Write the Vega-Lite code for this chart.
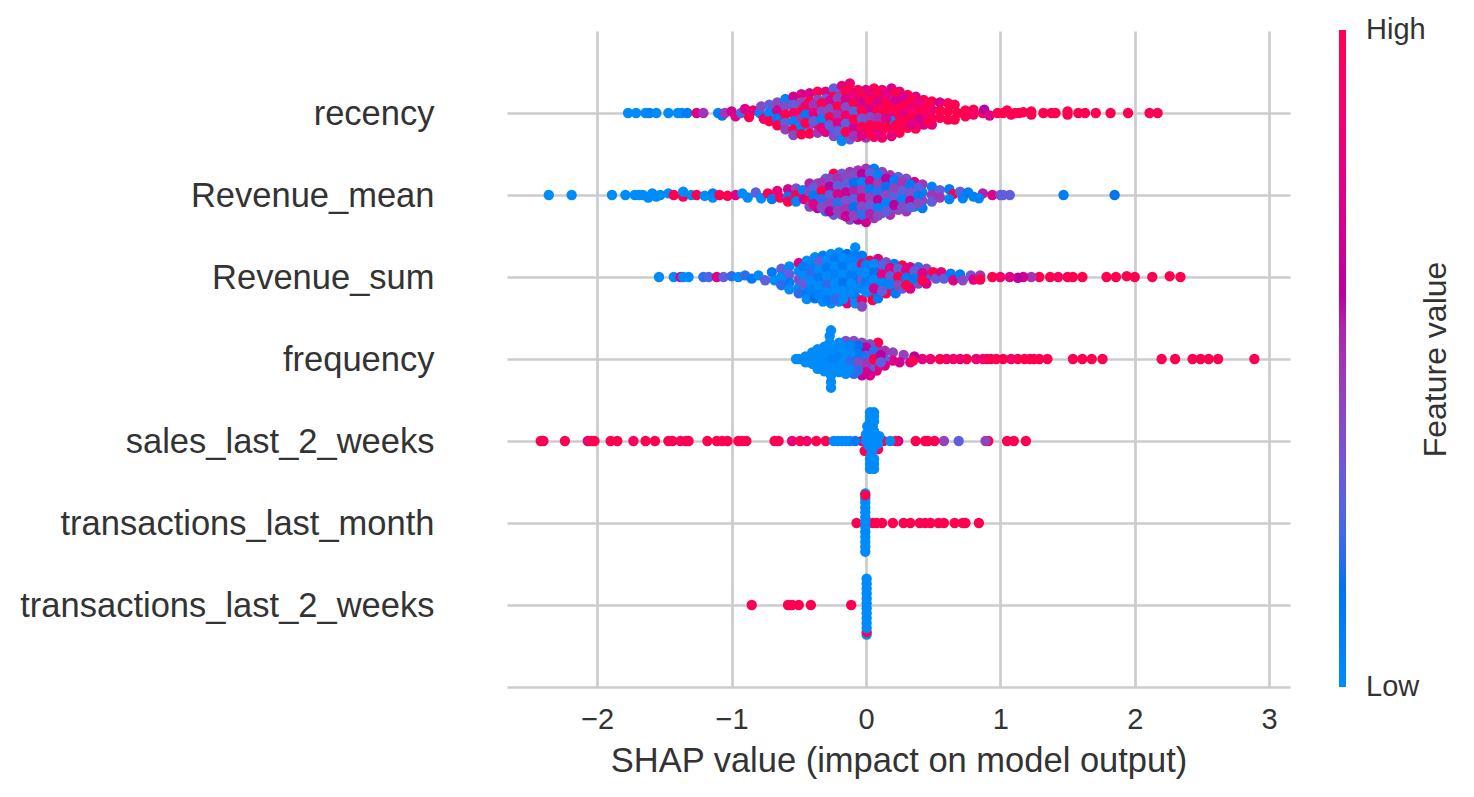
{
"$schema":"https://vega.github.io/schema/vega-lite/v6.json",
"width":783,"height":656,
"autosize":{"type":"none"},
"padding":{"left":507,"top":31,"right":184,"bottom":110},
"background":"white",
"config":{"view":{"stroke":null},"font":"Liberation Sans"},
"resolve":{"scale":{"y":"independent"}},
"layer":[
{"mark":{"type":"rule","color":"#a8a8a8","strokeWidth":3},
"encoding":{
"x":{"datum":0,"type":"quantitative","scale":{"domain":[-2.671,3.155],"nice":false,"zero":false}},
"y":{"datum":-1,"type":"quantitative","scale":{"domain":[-1,7],"nice":false,"zero":false},"axis":{"orient":"right","title":"Feature value","titleFontSize":32,"titleFontWeight":"normal","titleColor":"#333333","titleAngle":270,"titlePadding":162,"labels":false,"ticks":false,"domain":false,"grid":false}},
"y2":{"datum":7}}},
{"mark":{"type":"circle","size":108,"opacity":1,"stroke":null},
"data":{"values":[
{"x":-0.85,"y":0,"v":1},{"x":-0.58,"y":0,"v":1},{"x":-0.55,"y":0,"v":1},{"x":-0.5,"y":0,"v":1},{"x":-0.41,"y":0,"v":1},{"x":-0.11,"y":0,"v":1},
{"x":0.005,"y":-0.36,"v":0},{"x":0.005,"y":-0.33,"v":1},{"x":0.005,"y":-0.28,"v":0},{"x":0.005,"y":-0.22,"v":0},{"x":0.005,"y":-0.16,"v":0},{"x":0.005,"y":-0.1,"v":0},{"x":0.005,"y":-0.04,"v":0},{"x":0.005,"y":0.02,"v":0},{"x":0.005,"y":0.08,"v":0},{"x":0.005,"y":0.14,"v":0},{"x":0.005,"y":0.2,"v":0},{"x":0.005,"y":0.26,"v":0},{"x":0.005,"y":0.32,"v":0},
{"x":-0.07,"y":1,"v":1},{"x":0.05,"y":1,"v":1},{"x":0.08,"y":1,"v":1},{"x":0.12,"y":1,"v":1},{"x":0.2,"y":1,"v":1},{"x":0.28,"y":1,"v":1},{"x":0.33,"y":1,"v":1},{"x":0.4,"y":1,"v":1},{"x":0.44,"y":1,"v":1},{"x":0.48,"y":1,"v":1},{"x":0.54,"y":1,"v":1},{"x":0.58,"y":1,"v":1},{"x":0.66,"y":1,"v":1},{"x":0.72,"y":1,"v":1},{"x":0.74,"y":1,"v":1},{"x":0.84,"y":1,"v":1},
{"x":-0.005,"y":0.65,"v":0},{"x":-0.005,"y":0.71,"v":0},{"x":-0.005,"y":0.77,"v":0},{"x":-0.005,"y":0.83,"v":0},{"x":-0.005,"y":0.89,"v":0},{"x":-0.005,"y":0.95,"v":0},{"x":-0.005,"y":1.01,"v":0},{"x":-0.005,"y":1.07,"v":0},{"x":-0.005,"y":1.13,"v":0},{"x":-0.005,"y":1.19,"v":0},{"x":-0.005,"y":1.25,"v":0},{"x":-0.005,"y":1.3,"v":0},{"x":-0.005,"y":1.36,"v":0},{"x":-0.005,"y":1.34,"v":1},
{"x":-2.4,"y":2,"v":1},{"x":-2.42,"y":2,"v":1},{"x":-2.24,"y":2,"v":1},{"x":-2.07,"y":2,"v":0.85},{"x":-2.02,"y":2,"v":1},{"x":-2.04,"y":2,"v":1},{"x":-1.9,"y":2,"v":1},{"x":-1.85,"y":2,"v":1},{"x":-1.73,"y":2,"v":0.95},{"x":-1.64,"y":2,"v":1},{"x":-1.57,"y":2,"v":1},{"x":-1.47,"y":2,"v":1},{"x":-1.44,"y":2,"v":1},{"x":-1.38,"y":2,"v":0.95},{"x":-1.34,"y":2,"v":1},{"x":-1.32,"y":2,"v":1},{"x":-1.18,"y":2,"v":1},{"x":-1.11,"y":2,"v":1},{"x":-1.07,"y":2,"v":1},{"x":-1.03,"y":2,"v":1},{"x":-0.95,"y":2,"v":1},{"x":-0.92,"y":2,"v":1},{"x":-0.89,"y":2,"v":1},{"x":-0.68,"y":2,"v":1},{"x":-0.65,"y":2,"v":1},{"x":-0.55,"y":2,"v":0.8},{"x":-0.49,"y":2,"v":1},{"x":-0.44,"y":2,"v":0.9},{"x":-0.37,"y":2,"v":1},{"x":-0.3,"y":2,"v":1},{"x":-0.03,"y":2,"v":1},{"x":0.1,"y":2,"v":1},{"x":0.13,"y":2,"v":1},
{"x":1.19,"y":2,"v":1},{"x":1.1,"y":2,"v":1},{"x":1.05,"y":2,"v":1},{"x":0.91,"y":2,"v":1},{"x":0.89,"y":2,"v":0.45},{"x":0.69,"y":2,"v":0.3},{"x":0.58,"y":2,"v":0.45},{"x":0.51,"y":2,"v":1},{"x":0.44,"y":2,"v":1},{"x":0.46,"y":2,"v":1},{"x":0.37,"y":2,"v":1},{"x":0.24,"y":2,"v":0.6},{"x":0.22,"y":2,"v":1},{"x":0.18,"y":2,"v":0},
{"x":-0.24,"y":2,"v":0},{"x":-0.21,"y":2,"v":0},{"x":-0.18,"y":2,"v":0},{"x":-0.15,"y":2,"v":0},{"x":-0.12,"y":2,"v":0},{"x":-0.08,"y":2,"v":0.1},
{"x":-0.01,"y":1.88,"v":1},{"x":0.09,"y":1.9,"v":1},
{"x":0.0,"y":2.0,"v":0},{"x":0.0,"y":2.08,"v":0},{"x":0.02,"y":2.14,"v":0},{"x":0.02,"y":1.94,"v":0},{"x":0.02,"y":2.04,"v":0},{"x":0.1,"y":2.06,"v":0},{"x":0.09,"y":1.97,"v":0},{"x":0.06,"y":2.12,"v":0},
{"x":0.01,"y":2.18,"v":0},{"x":0.05,"y":2.0,"v":0},{"x":0.04,"y":1.84,"v":0},{"x":0.05,"y":1.9,"v":0},{"x":0.05,"y":2.18,"v":0},{"x":0.03,"y":2.24,"v":0},{"x":0.06,"y":2.24,"v":0},{"x":0.03,"y":2.3,"v":0},{"x":0.06,"y":2.3,"v":0},{"x":0.03,"y":2.35,"v":0},{"x":0.06,"y":2.35,"v":0},{"x":0.03,"y":1.78,"v":0},{"x":0.06,"y":1.78,"v":0},{"x":0.03,"y":1.72,"v":0},{"x":0.06,"y":1.72,"v":0},{"x":0.03,"y":1.66,"v":0},{"x":0.06,"y":1.66,"v":0},
{"x":2.89,"y":3,"v":1},{"x":2.62,"y":3,"v":1},{"x":2.55,"y":3,"v":1},{"x":2.49,"y":3,"v":1},{"x":2.43,"y":3,"v":1},{"x":2.3,"y":3,"v":1},{"x":2.2,"y":3,"v":1},{"x":1.76,"y":3,"v":1},{"x":1.68,"y":3,"v":1},{"x":1.61,"y":3,"v":1},{"x":1.54,"y":3,"v":1},{"x":1.35,"y":3,"v":1},{"x":1.29,"y":3,"v":1},{"x":1.25,"y":3,"v":1},{"x":1.22,"y":3,"v":1},{"x":1.18,"y":3,"v":1},{"x":1.13,"y":3,"v":1},{"x":1.08,"y":3,"v":0.9},{"x":1.02,"y":3,"v":1},{"x":0.97,"y":3,"v":1},{"x":0.93,"y":3,"v":1},{"x":0.9,"y":3,"v":1},{"x":0.87,"y":3,"v":0.9},{"x":0.82,"y":3,"v":0.85},{"x":0.75,"y":3,"v":1},{"x":0.7,"y":3,"v":0.85},{"x":0.65,"y":3,"v":0.9},{"x":0.6,"y":3,"v":0.85},{"x":0.55,"y":3,"v":1},{"x":0.48,"y":3,"v":0.85},{"x":0.42,"y":3,"v":0.8},
{"x":0.36,"y":3.03,"v":0.6},{"x":0.33,"y":2.96,"v":0.7},{"x":0.28,"y":3.05,"v":0.45},{"x":0.25,"y":2.96,"v":0.7},{"x":0.35,"y":2.98,"v":1},{"x":0.2,"y":3.08,"v":0.45},{"x":0.2,"y":2.98,"v":0.75},{"x":0.14,"y":3.1,"v":0.5},{"x":0.14,"y":3.0,"v":0.3},{"x":0.14,"y":2.92,"v":0.75},{"x":0.08,"y":3.14,"v":0.45},{"x":0.09,"y":3.2,"v":1},{"x":0.08,"y":3.04,"v":0.75},{"x":0.08,"y":2.94,"v":0.45},{"x":0.08,"y":2.86,"v":0.8},{"x":0.03,"y":3.18,"v":0.4},{"x":0.03,"y":3.08,"v":0.3},{"x":0.03,"y":2.98,"v":0.7},{"x":0.03,"y":2.88,"v":0.3},{"x":0.03,"y":2.8,"v":0.75},{"x":-0.03,"y":3.2,"v":0.4},{"x":-0.03,"y":3.1,"v":0.05},{"x":-0.03,"y":3.0,"v":0.3},{"x":-0.03,"y":2.9,"v":0.1},{"x":-0.03,"y":2.8,"v":0.6},{"x":0.0,"y":3.14,"v":0.6},{"x":0.0,"y":3.04,"v":0.2},{"x":0.0,"y":2.94,"v":0.5},{"x":0.0,"y":2.84,"v":0.7},{"x":0.06,"y":3.1,"v":0.2},{"x":0.06,"y":3.0,"v":1},{"x":0.11,"y":3.05,"v":0.6},{"x":0.11,"y":2.96,"v":0.3},
{"x":-0.09,"y":3.22,"v":0.4},{"x":-0.09,"y":3.12,"v":0.3},{"x":-0.09,"y":3.02,"v":0.1},{"x":-0.09,"y":2.92,"v":0.2},{"x":-0.09,"y":2.82,"v":0.2},{"x":-0.06,"y":3.16,"v":0.15},{"x":-0.06,"y":3.06,"v":0.1},{"x":-0.06,"y":2.96,"v":0.4},{"x":-0.06,"y":2.86,"v":0.2},{"x":-0.15,"y":3.22,"v":0.4},{"x":-0.15,"y":3.12,"v":0},{"x":-0.15,"y":3.02,"v":0.1},{"x":-0.15,"y":2.92,"v":0},{"x":-0.15,"y":2.82,"v":0},{"x":-0.12,"y":3.17,"v":0.05},{"x":-0.12,"y":3.07,"v":0},{"x":-0.12,"y":2.97,"v":0.2},{"x":-0.12,"y":2.87,"v":0},
{"x":-0.2,"y":3.2,"v":0},{"x":-0.2,"y":3.08,"v":0},{"x":-0.2,"y":2.96,"v":0},{"x":-0.2,"y":2.84,"v":0},{"x":-0.18,"y":3.14,"v":0},{"x":-0.18,"y":3.02,"v":0},{"x":-0.18,"y":2.9,"v":0},
{"x":-0.52,"y":3.0,"v":0},{"x":-0.5,"y":3.0,"v":0},{"x":-0.45,"y":3.03,"v":0},{"x":-0.45,"y":2.96,"v":0},{"x":-0.4,"y":3.08,"v":0},{"x":-0.4,"y":2.94,"v":0},{"x":-0.4,"y":3.0,"v":0},{"x":-0.36,"y":3.12,"v":0},{"x":-0.36,"y":3.0,"v":0},{"x":-0.36,"y":2.88,"v":0},{"x":-0.33,"y":3.08,"v":0},{"x":-0.33,"y":2.94,"v":0},{"x":-0.31,"y":3.15,"v":0},{"x":-0.31,"y":3.05,"v":0},{"x":-0.31,"y":2.95,"v":0},{"x":-0.31,"y":2.85,"v":0},{"x":-0.28,"y":3.1,"v":0},{"x":-0.28,"y":3.0,"v":0},{"x":-0.28,"y":2.9,"v":0},{"x":-0.22,"y":3.14,"v":0},{"x":-0.22,"y":3.04,"v":0.05},{"x":-0.22,"y":2.9,"v":0},{"x":-0.26,"y":3.35,"v":0},{"x":-0.27,"y":3.28,"v":0},{"x":-0.27,"y":3.2,"v":0},{"x":-0.25,"y":3.1,"v":0},{"x":-0.25,"y":3.0,"v":0.05},{"x":-0.25,"y":2.9,"v":0},{"x":-0.26,"y":2.8,"v":0},{"x":-0.26,"y":2.72,"v":0},{"x":-0.26,"y":2.65,"v":0},
{"x":-1.54,"y":4,"v":0},{"x":-1.43,"y":4,"v":0},{"x":-1.38,"y":4,"v":0.75},{"x":-1.36,"y":4,"v":0},{"x":-1.32,"y":4,"v":0},{"x":-1.21,"y":4,"v":0.2},{"x":-1.17,"y":4,"v":0.25},{"x":-1.11,"y":4,"v":0.75},{"x":-1.06,"y":4,"v":0.3},{"x":-1.0,"y":4.01,"v":0.2},{"x":-0.95,"y":4.0,"v":0},{"x":-0.9,"y":4.02,"v":0.2},{"x":-0.85,"y":3.98,"v":0.1},{"x":-0.8,"y":4.02,"v":0},{"x":-0.75,"y":3.96,"v":0.3},
{"x":-0.7,"y":4.06,"v":0.1},{"x":-0.68,"y":3.96,"v":0},{"x":-0.63,"y":4.1,"v":0.3},{"x":-0.63,"y":4.0,"v":0},{"x":-0.63,"y":3.9,"v":0.2},{"x":-0.57,"y":4.13,"v":0},{"x":-0.57,"y":4.03,"v":0.3},{"x":-0.57,"y":3.93,"v":0.1},{"x":-0.57,"y":3.85,"v":0},
{"x":-0.5,"y":4.17,"v":0.75},{"x":-0.5,"y":4.07,"v":0},{"x":-0.5,"y":3.97,"v":0.4},{"x":-0.5,"y":3.87,"v":0},{"x":-0.5,"y":3.8,"v":0.2},
{"x":-0.44,"y":4.2,"v":0},{"x":-0.44,"y":4.1,"v":0.3},{"x":-0.44,"y":4.0,"v":0.1},{"x":-0.44,"y":3.9,"v":0},{"x":-0.44,"y":3.8,"v":0.1},{"x":-0.44,"y":3.73,"v":0},
{"x":-0.38,"y":4.24,"v":0},{"x":-0.38,"y":4.14,"v":0.3},{"x":-0.38,"y":4.04,"v":0},{"x":-0.38,"y":3.94,"v":0.2},{"x":-0.38,"y":3.84,"v":0},{"x":-0.38,"y":3.74,"v":0.15},
{"x":-0.32,"y":4.26,"v":0.1},{"x":-0.32,"y":4.16,"v":0},{"x":-0.32,"y":4.06,"v":0.4},{"x":-0.32,"y":3.96,"v":0},{"x":-0.32,"y":3.86,"v":0.3},{"x":-0.32,"y":3.76,"v":0},{"x":-0.32,"y":3.7,"v":0},
{"x":-0.26,"y":4.28,"v":0},{"x":-0.26,"y":4.18,"v":0.2},{"x":-0.26,"y":4.08,"v":0},{"x":-0.26,"y":3.98,"v":1},{"x":-0.26,"y":3.88,"v":0.1},{"x":-0.26,"y":3.78,"v":0},{"x":-0.26,"y":3.68,"v":0},
{"x":-0.2,"y":4.3,"v":0},{"x":-0.2,"y":4.2,"v":0.3},{"x":-0.2,"y":4.1,"v":0},{"x":-0.2,"y":4.0,"v":0.1},{"x":-0.2,"y":3.9,"v":0},{"x":-0.2,"y":3.8,"v":0.3},{"x":-0.2,"y":3.7,"v":0},
{"x":-0.14,"y":4.28,"v":0.15},{"x":-0.14,"y":4.18,"v":0},{"x":-0.14,"y":4.08,"v":0.3},{"x":-0.14,"y":3.98,"v":0},{"x":-0.14,"y":3.88,"v":0.05},{"x":-0.14,"y":3.78,"v":0.2},{"x":-0.14,"y":3.68,"v":0.8},
{"x":-0.08,"y":4.36,"v":0},{"x":-0.08,"y":4.26,"v":0.1},{"x":-0.08,"y":4.16,"v":0},{"x":-0.08,"y":4.06,"v":0.05},{"x":-0.08,"y":3.96,"v":0.15},{"x":-0.08,"y":3.86,"v":0},{"x":-0.08,"y":3.76,"v":0.1},{"x":-0.08,"y":3.68,"v":0},
{"x":-0.03,"y":4.26,"v":0.1},{"x":-0.03,"y":4.16,"v":0.8},{"x":-0.03,"y":4.06,"v":0},{"x":-0.03,"y":3.96,"v":0.3},{"x":-0.03,"y":3.86,"v":0.05},{"x":-0.03,"y":3.72,"v":0.9},{"x":-0.03,"y":3.64,"v":0.4},
{"x":0.03,"y":4.2,"v":1},{"x":0.03,"y":4.1,"v":0},{"x":0.03,"y":4.0,"v":0.1},{"x":0.03,"y":3.9,"v":0},{"x":0.03,"y":3.8,"v":0.05},{"x":0.05,"y":3.72,"v":1},
{"x":0.09,"y":4.22,"v":0.75},{"x":0.09,"y":4.12,"v":0.9},{"x":0.09,"y":4.02,"v":0},{"x":0.09,"y":3.92,"v":0.3},{"x":0.09,"y":3.82,"v":0.1},{"x":0.09,"y":3.74,"v":0.1},
{"x":0.15,"y":4.18,"v":0.4},{"x":0.15,"y":4.08,"v":0.1},{"x":0.15,"y":3.98,"v":1},{"x":0.15,"y":3.88,"v":0.3},{"x":0.15,"y":3.8,"v":1},
{"x":0.21,"y":4.16,"v":0.1},{"x":0.21,"y":4.06,"v":0.7},{"x":0.21,"y":3.96,"v":0.1},{"x":0.21,"y":3.86,"v":1},{"x":0.22,"y":3.8,"v":0.1},
{"x":0.27,"y":4.14,"v":1},{"x":0.27,"y":4.04,"v":0.25},{"x":0.27,"y":3.94,"v":0.8},{"x":0.27,"y":3.86,"v":0.3},
{"x":0.33,"y":4.12,"v":0.75},{"x":0.33,"y":4.03,"v":1},{"x":0.33,"y":3.95,"v":0.3},{"x":0.33,"y":3.86,"v":0.75},
{"x":0.39,"y":4.12,"v":0.2},{"x":0.39,"y":4.02,"v":0.75},{"x":0.39,"y":3.92,"v":0.4},{"x":0.45,"y":4.1,"v":0.4},{"x":0.45,"y":4.0,"v":0.2},{"x":0.45,"y":3.92,"v":0.75},
{"x":0.5,"y":4.06,"v":1},{"x":0.52,"y":3.98,"v":0.3},{"x":0.56,"y":4.06,"v":0.8},{"x":0.58,"y":3.98,"v":0.3},{"x":0.63,"y":4.04,"v":0.1},{"x":0.65,"y":3.96,"v":0.75},{"x":0.7,"y":4.03,"v":0.1},{"x":0.72,"y":3.96,"v":0.4},{"x":0.78,"y":4.02,"v":0.35},{"x":0.8,"y":3.97,"v":0.75},{"x":0.85,"y":4.02,"v":0.5},{"x":0.85,"y":3.97,"v":1},
{"x":-0.47,"y":4.12,"v":0.1},{"x":-0.47,"y":4.02,"v":0},{"x":-0.47,"y":3.92,"v":0.3},{"x":-0.41,"y":4.15,"v":0.05},{"x":-0.41,"y":4.05,"v":0.2},{"x":-0.41,"y":3.95,"v":0},{"x":-0.41,"y":3.85,"v":0.05},{"x":-0.35,"y":4.19,"v":0.3},{"x":-0.35,"y":4.09,"v":0},{"x":-0.35,"y":3.99,"v":0.1},{"x":-0.35,"y":3.89,"v":0},{"x":-0.35,"y":3.79,"v":0.05},{"x":-0.29,"y":4.21,"v":0},{"x":-0.29,"y":4.11,"v":0.1},{"x":-0.29,"y":4.01,"v":0},{"x":-0.29,"y":3.91,"v":0.2},{"x":-0.29,"y":3.81,"v":0},{"x":-0.29,"y":3.72,"v":0.1},{"x":-0.23,"y":4.23,"v":0.1},{"x":-0.23,"y":4.13,"v":0},{"x":-0.23,"y":4.03,"v":0.05},{"x":-0.23,"y":3.93,"v":0},{"x":-0.23,"y":3.83,"v":0},{"x":-0.23,"y":3.73,"v":0.2},{"x":-0.17,"y":4.23,"v":0},{"x":-0.17,"y":4.13,"v":0.1},{"x":-0.17,"y":4.03,"v":0},{"x":-0.17,"y":3.93,"v":0.15},{"x":-0.17,"y":3.83,"v":0},{"x":-0.17,"y":3.73,"v":0},{"x":-0.11,"y":4.22,"v":0.05},{"x":-0.11,"y":4.12,"v":0},{"x":-0.11,"y":4.02,"v":0.1},{"x":-0.11,"y":3.92,"v":0},{"x":-0.11,"y":3.82,"v":0.02},{"x":0.0,"y":4.15,"v":0.05},{"x":0.0,"y":4.05,"v":0},{"x":0.0,"y":3.95,"v":0.1},{"x":0.0,"y":3.82,"v":0},{"x":0.06,"y":4.16,"v":0},{"x":0.06,"y":4.06,"v":0.15},{"x":0.06,"y":3.96,"v":0.02},{"x":0.06,"y":3.86,"v":0.7},{"x":0.12,"y":4.15,"v":0.25},{"x":0.12,"y":4.03,"v":0.8},{"x":0.12,"y":3.93,"v":0.05},{"x":0.12,"y":3.83,"v":0.3},{"x":0.18,"y":4.11,"v":0.8},{"x":0.18,"y":4.01,"v":0.3},{"x":0.18,"y":3.91,"v":0.05},{"x":0.24,"y":4.1,"v":0.3},{"x":0.24,"y":4.0,"v":1},{"x":0.24,"y":3.9,"v":0.4},{"x":0.3,"y":4.08,"v":0.8},{"x":0.3,"y":3.99,"v":0.1},{"x":0.3,"y":3.9,"v":1},{"x":0.36,"y":4.07,"v":0.3},{"x":0.36,"y":3.98,"v":0.1},{"x":0.42,"y":4.05,"v":0.75},{"x":0.42,"y":3.96,"v":1},
{"x":2.34,"y":4,"v":1},{"x":2.26,"y":4.01,"v":1},{"x":2.13,"y":4,"v":1},{"x":2.0,"y":4,"v":1},{"x":1.94,"y":4.01,"v":1},{"x":1.86,"y":4,"v":1},{"x":1.79,"y":4,"v":1},{"x":1.61,"y":4,"v":1},{"x":1.54,"y":4,"v":1},{"x":1.5,"y":4,"v":1},{"x":1.43,"y":4,"v":0.95},{"x":1.37,"y":4,"v":1},{"x":1.29,"y":4,"v":1},{"x":1.23,"y":4,"v":0.5},{"x":1.17,"y":4,"v":0.7},{"x":1.13,"y":3.99,"v":0.6},{"x":1.07,"y":4,"v":0.75},{"x":1.0,"y":4,"v":0.9},{"x":0.94,"y":4,"v":1},
{"x":-2.36,"y":5,"v":0},{"x":-2.19,"y":5,"v":0},{"x":-1.89,"y":5,"v":0},{"x":-1.79,"y":5,"v":0},{"x":-1.72,"y":5,"v":0},{"x":-1.69,"y":5,"v":0},{"x":-1.66,"y":5,"v":0},{"x":-1.62,"y":4.97,"v":0},{"x":-1.59,"y":5.02,"v":0},{"x":-1.56,"y":4.98,"v":0},{"x":-1.53,"y":5,"v":0},{"x":-1.47,"y":5.02,"v":0},{"x":-1.43,"y":5,"v":1},{"x":-1.36,"y":4.98,"v":1},{"x":-1.36,"y":5.04,"v":0},{"x":-1.3,"y":5.0,"v":0},{"x":-1.26,"y":5,"v":1},{"x":-1.2,"y":4.99,"v":0},{"x":-1.14,"y":5.02,"v":0.1},{"x":-1.14,"y":4.97,"v":0},{"x":-1.09,"y":5,"v":1},{"x":-1.03,"y":4.99,"v":1},{"x":-0.97,"y":5,"v":0.75},{"x":-0.92,"y":5.02,"v":0},{"x":-0.88,"y":4.97,"v":0},{"x":-0.82,"y":5.03,"v":0.3},{"x":-0.78,"y":4.96,"v":0},{"x":-0.73,"y":5.02,"v":1},{"x":-0.7,"y":4.95,"v":0.1},{"x":-0.66,"y":5.05,"v":0.8},{"x":-0.64,"y":4.97,"v":0.9},
{"x":-0.58,"y":5.07,"v":0.7},{"x":-0.58,"y":4.98,"v":0.1},{"x":-0.58,"y":4.92,"v":1},{"x":-0.52,"y":5.08,"v":0.4},{"x":-0.52,"y":5.0,"v":1},{"x":-0.52,"y":4.92,"v":0.05},{"x":-0.47,"y":5.06,"v":0.05},{"x":-0.46,"y":4.95,"v":0.7},{"x":-0.42,"y":5.14,"v":0.55},{"x":-0.42,"y":5.04,"v":0.4},{"x":-0.42,"y":4.93,"v":1},{"x":-0.42,"y":4.86,"v":0.4},
{"x":-0.36,"y":5.14,"v":0.4},{"x":-0.36,"y":5.04,"v":0.05},{"x":-0.36,"y":4.94,"v":0.45},{"x":-0.36,"y":4.84,"v":0.6},{"x":-0.3,"y":5.2,"v":0.3},{"x":-0.3,"y":5.1,"v":0.4},{"x":-0.3,"y":5.0,"v":0.75},{"x":-0.3,"y":4.9,"v":0.3},{"x":-0.3,"y":4.8,"v":0.2},
{"x":-0.24,"y":5.26,"v":1},{"x":-0.24,"y":5.16,"v":0.45},{"x":-0.24,"y":5.06,"v":0.3},{"x":-0.24,"y":4.96,"v":0.5},{"x":-0.24,"y":4.86,"v":0.1},{"x":-0.24,"y":4.76,"v":0.3},
{"x":-0.18,"y":5.26,"v":0.3},{"x":-0.18,"y":5.16,"v":0.6},{"x":-0.18,"y":5.06,"v":0.05},{"x":-0.18,"y":4.96,"v":0.4},{"x":-0.18,"y":4.86,"v":0.3},{"x":-0.18,"y":4.76,"v":0.4},
{"x":-0.12,"y":5.28,"v":0.5},{"x":-0.12,"y":5.18,"v":0.6},{"x":-0.12,"y":5.08,"v":0.1},{"x":-0.12,"y":4.98,"v":0.3},{"x":-0.12,"y":4.88,"v":0.7},{"x":-0.12,"y":4.78,"v":0.3},{"x":-0.12,"y":4.7,"v":0.4},
{"x":-0.06,"y":5.3,"v":0.5},{"x":-0.06,"y":5.2,"v":1},{"x":-0.06,"y":5.1,"v":0.3},{"x":-0.06,"y":5.0,"v":0.1},{"x":-0.06,"y":4.9,"v":0.75},{"x":-0.06,"y":4.8,"v":0.35},{"x":-0.06,"y":4.7,"v":0.6},
{"x":0.0,"y":5.32,"v":0.5},{"x":0.0,"y":5.22,"v":0.4},{"x":0.0,"y":5.12,"v":0.2},{"x":0.0,"y":5.02,"v":0.35},{"x":0.0,"y":4.92,"v":0.55},{"x":0.0,"y":4.82,"v":0.1},{"x":0.0,"y":4.72,"v":0.65},{"x":0.0,"y":4.67,"v":0.7},
{"x":0.06,"y":5.32,"v":0.1},{"x":0.06,"y":5.22,"v":0.5},{"x":0.06,"y":5.12,"v":0.2},{"x":0.06,"y":5.02,"v":0.7},{"x":0.06,"y":4.92,"v":0.1},{"x":0.06,"y":4.82,"v":0.4},{"x":0.06,"y":4.72,"v":0.5},
{"x":0.12,"y":5.28,"v":0.4},{"x":0.12,"y":5.18,"v":0.6},{"x":0.12,"y":5.08,"v":0.7},{"x":0.12,"y":4.98,"v":0.05},{"x":0.12,"y":4.88,"v":0.8},{"x":0.12,"y":4.78,"v":0.3},
{"x":0.18,"y":5.24,"v":0.5},{"x":0.18,"y":5.14,"v":0.3},{"x":0.18,"y":5.04,"v":0.05},{"x":0.18,"y":4.94,"v":0.3},{"x":0.18,"y":4.84,"v":0.1},{"x":0.18,"y":4.76,"v":0.5},
{"x":0.24,"y":5.22,"v":0.3},{"x":0.24,"y":5.12,"v":0.8},{"x":0.24,"y":5.02,"v":0.5},{"x":0.24,"y":4.92,"v":0.05},{"x":0.24,"y":4.82,"v":0.4},
{"x":0.3,"y":5.2,"v":0.4},{"x":0.3,"y":5.1,"v":0.1},{"x":0.3,"y":5.0,"v":0.75},{"x":0.3,"y":4.9,"v":0.3},{"x":0.3,"y":4.8,"v":0.5},
{"x":0.36,"y":5.16,"v":0.7},{"x":0.36,"y":5.06,"v":0.45},{"x":0.36,"y":4.96,"v":0.3},{"x":0.36,"y":4.86,"v":0.05},{"x":0.42,"y":5.13,"v":0.5},{"x":0.42,"y":5.03,"v":0.05},{"x":0.42,"y":4.93,"v":0.45},{"x":0.42,"y":4.84,"v":0.1},
{"x":0.49,"y":5.1,"v":0.05},{"x":0.49,"y":5.0,"v":0.5},{"x":0.49,"y":4.92,"v":0.3},{"x":0.55,"y":5.06,"v":0.3},{"x":0.55,"y":4.97,"v":0.5},{"x":0.62,"y":5.07,"v":0.1},{"x":0.65,"y":5.01,"v":1},{"x":0.62,"y":4.95,"v":0.05},{"x":0.7,"y":5.04,"v":0.3},{"x":0.72,"y":4.96,"v":0.05},{"x":0.76,"y":5.03,"v":0.1},{"x":0.8,"y":4.98,"v":0.05},{"x":0.87,"y":5.02,"v":0.55},{"x":0.84,"y":4.96,"v":0.05},{"x":0.94,"y":5,"v":0.75},{"x":1.0,"y":5,"v":0.35},{"x":1.02,"y":5,"v":0.3},{"x":1.07,"y":5,"v":0.3},{"x":1.47,"y":5,"v":0.08},{"x":1.85,"y":5,"v":0.14},
{"x":-0.39,"y":5.09,"v":0.3},{"x":-0.39,"y":4.99,"v":0.1},{"x":-0.39,"y":4.89,"v":0.75},{"x":-0.33,"y":5.15,"v":0.5},{"x":-0.33,"y":5.05,"v":1},{"x":-0.33,"y":4.95,"v":0.2},{"x":-0.33,"y":4.85,"v":0.4},{"x":-0.27,"y":5.2,"v":0.4},{"x":-0.27,"y":5.1,"v":0.6},{"x":-0.27,"y":5.0,"v":0.3},{"x":-0.27,"y":4.9,"v":0.45},{"x":-0.27,"y":4.8,"v":0.6},{"x":-0.21,"y":5.21,"v":0.5},{"x":-0.21,"y":5.11,"v":0.3},{"x":-0.21,"y":5.01,"v":0.75},{"x":-0.21,"y":4.91,"v":0.2},{"x":-0.21,"y":4.81,"v":0.45},{"x":-0.15,"y":5.23,"v":0.4},{"x":-0.15,"y":5.13,"v":0.3},{"x":-0.15,"y":5.03,"v":0.65},{"x":-0.15,"y":4.93,"v":0.35},{"x":-0.15,"y":4.83,"v":0.5},{"x":-0.15,"y":4.74,"v":0.65},{"x":-0.09,"y":5.25,"v":0.4},{"x":-0.09,"y":5.15,"v":0.15},{"x":-0.09,"y":5.05,"v":0.55},{"x":-0.09,"y":4.95,"v":0.3},{"x":-0.09,"y":4.85,"v":0.15},{"x":-0.09,"y":4.75,"v":0.45},{"x":-0.03,"y":5.26,"v":0.6},{"x":-0.03,"y":5.16,"v":0.05},{"x":-0.03,"y":5.06,"v":0.45},{"x":-0.03,"y":4.96,"v":0.75},{"x":-0.03,"y":4.86,"v":0.4},{"x":-0.03,"y":4.76,"v":0.2},{"x":0.03,"y":5.27,"v":0.3},{"x":0.03,"y":5.17,"v":0.7},{"x":0.03,"y":5.07,"v":0.1},{"x":0.03,"y":4.97,"v":0.45},{"x":0.03,"y":4.87,"v":0.3},{"x":0.03,"y":4.77,"v":0.55},{"x":0.09,"y":5.24,"v":0.05},{"x":0.09,"y":5.14,"v":0.45},{"x":0.09,"y":5.04,"v":0.2},{"x":0.09,"y":4.94,"v":0.6},{"x":0.09,"y":4.84,"v":0.05},{"x":0.09,"y":4.75,"v":0.4},{"x":0.15,"y":5.2,"v":0.6},{"x":0.15,"y":5.1,"v":0.15},{"x":0.15,"y":5.0,"v":0.4},{"x":0.15,"y":4.9,"v":0.05},{"x":0.15,"y":4.8,"v":0.3},{"x":0.21,"y":5.18,"v":0.1},{"x":0.21,"y":5.08,"v":0.45},{"x":0.21,"y":4.98,"v":0.3},{"x":0.21,"y":4.88,"v":0.6},{"x":0.27,"y":5.15,"v":0.5},{"x":0.27,"y":5.05,"v":0.3},{"x":0.27,"y":4.95,"v":0.05},{"x":0.27,"y":4.85,"v":0.4},{"x":0.33,"y":5.13,"v":0.1},{"x":0.33,"y":5.03,"v":0.35},{"x":0.33,"y":4.93,"v":0.65},{"x":0.33,"y":4.85,"v":0.3},{"x":0.39,"y":5.09,"v":0.3},{"x":0.39,"y":4.99,"v":0.1},{"x":0.39,"y":4.9,"v":0.4},
{"x":-1.77,"y":6,"v":0},{"x":-1.71,"y":6,"v":0},{"x":-1.64,"y":6,"v":0},{"x":-1.61,"y":6,"v":0.05},{"x":-1.56,"y":6,"v":0},{"x":-1.47,"y":6,"v":0},{"x":-1.4,"y":6,"v":0},{"x":-1.37,"y":6,"v":0},{"x":-1.33,"y":6,"v":0.1},{"x":-1.26,"y":6,"v":0.75},{"x":-1.21,"y":6,"v":0.5},{"x":-1.1,"y":6,"v":0.05},{"x":-1.07,"y":5.97,"v":0.1},{"x":-1.05,"y":6,"v":0.5},{"x":-1.0,"y":6.02,"v":0.7},{"x":-0.97,"y":5.96,"v":0.75},{"x":-0.93,"y":6.0,"v":0.25},{"x":-0.9,"y":6.05,"v":0.75},{"x":-0.87,"y":5.95,"v":1},{"x":-0.84,"y":6.03,"v":0.8},{"x":-0.79,"y":6.0,"v":0.05},{"x":-0.78,"y":6.08,"v":0.4},{"x":-0.76,"y":5.93,"v":0.9},
{"x":-0.72,"y":6.1,"v":0.3},{"x":-0.72,"y":6.0,"v":0.05},{"x":-0.72,"y":5.9,"v":1},{"x":-0.66,"y":6.13,"v":0.4},{"x":-0.66,"y":6.03,"v":0.7},{"x":-0.66,"y":5.93,"v":0.1},{"x":-0.66,"y":5.85,"v":1},
{"x":-0.6,"y":6.17,"v":0.05},{"x":-0.6,"y":6.08,"v":0.4},{"x":-0.6,"y":5.98,"v":1},{"x":-0.6,"y":5.88,"v":0.3},{"x":-0.6,"y":5.8,"v":0.45},
{"x":-0.54,"y":6.2,"v":0.7},{"x":-0.54,"y":6.1,"v":0.3},{"x":-0.54,"y":6.0,"v":0.9},{"x":-0.54,"y":5.9,"v":0.05},{"x":-0.54,"y":5.8,"v":1},{"x":-0.54,"y":5.73,"v":0.4},
{"x":-0.48,"y":6.23,"v":0.75},{"x":-0.48,"y":6.13,"v":0.4},{"x":-0.48,"y":6.03,"v":1},{"x":-0.48,"y":5.93,"v":0.5},{"x":-0.48,"y":5.83,"v":0.05},{"x":-0.48,"y":5.74,"v":1},
{"x":-0.42,"y":6.24,"v":0.7},{"x":-0.42,"y":6.15,"v":1},{"x":-0.42,"y":6.05,"v":0.3},{"x":-0.42,"y":5.95,"v":0.8},{"x":-0.42,"y":5.85,"v":0.4},{"x":-0.42,"y":5.75,"v":1},
{"x":-0.36,"y":6.26,"v":1},{"x":-0.36,"y":6.16,"v":0.4},{"x":-0.36,"y":6.06,"v":0.8},{"x":-0.36,"y":5.96,"v":0.05},{"x":-0.36,"y":5.86,"v":1},{"x":-0.36,"y":5.76,"v":0.5},
{"x":-0.3,"y":6.26,"v":0.8},{"x":-0.3,"y":6.17,"v":0.3},{"x":-0.3,"y":6.07,"v":1},{"x":-0.3,"y":5.97,"v":0.6},{"x":-0.3,"y":5.87,"v":0.05},{"x":-0.3,"y":5.77,"v":0.75},
{"x":-0.24,"y":6.3,"v":0.3},{"x":-0.24,"y":6.2,"v":1},{"x":-0.24,"y":6.1,"v":0.7},{"x":-0.24,"y":6.0,"v":0.3},{"x":-0.24,"y":5.9,"v":0.9},{"x":-0.24,"y":5.8,"v":0.05},{"x":-0.24,"y":5.72,"v":0.4},
{"x":-0.18,"y":6.33,"v":0.8},{"x":-0.18,"y":6.23,"v":0.5},{"x":-0.18,"y":6.13,"v":1},{"x":-0.18,"y":6.03,"v":0.7},{"x":-0.18,"y":5.93,"v":1},{"x":-0.18,"y":5.83,"v":0.4},{"x":-0.18,"y":5.73,"v":0.05},{"x":-0.18,"y":5.66,"v":0.02},
{"x":-0.12,"y":6.36,"v":0.85},{"x":-0.12,"y":6.26,"v":1},{"x":-0.12,"y":6.16,"v":0.7},{"x":-0.12,"y":6.06,"v":1},{"x":-0.12,"y":5.96,"v":0.3},{"x":-0.12,"y":5.86,"v":1},{"x":-0.12,"y":5.76,"v":0.8},{"x":-0.12,"y":5.68,"v":0.3},
{"x":-0.06,"y":6.28,"v":1},{"x":-0.06,"y":6.18,"v":0.65},{"x":-0.06,"y":6.08,"v":1},{"x":-0.06,"y":5.98,"v":0.8},{"x":-0.06,"y":5.88,"v":0.4},{"x":-0.06,"y":5.78,"v":1},{"x":-0.06,"y":5.71,"v":1},
{"x":0.0,"y":6.28,"v":0.75},{"x":0.0,"y":6.18,"v":1},{"x":0.0,"y":6.08,"v":0.5},{"x":0.0,"y":5.98,"v":1},{"x":0.0,"y":5.88,"v":0.8},{"x":0.0,"y":5.78,"v":1},{"x":0.0,"y":5.7,"v":0.5},
{"x":0.06,"y":6.3,"v":1},{"x":0.06,"y":6.2,"v":1},{"x":0.06,"y":6.1,"v":0.02},{"x":0.06,"y":6.0,"v":0.8},{"x":0.06,"y":5.9,"v":1},{"x":0.06,"y":5.8,"v":0.7},{"x":0.06,"y":5.71,"v":1},
{"x":0.12,"y":6.28,"v":0.85},{"x":0.12,"y":6.18,"v":1},{"x":0.12,"y":6.08,"v":0.7},{"x":0.12,"y":5.98,"v":1},{"x":0.12,"y":5.88,"v":0.85},{"x":0.12,"y":5.78,"v":1},{"x":0.12,"y":5.7,"v":0.9},
{"x":0.19,"y":6.3,"v":0.7},{"x":0.19,"y":6.2,"v":0.5},{"x":0.19,"y":6.1,"v":1},{"x":0.19,"y":6.0,"v":0.75},{"x":0.19,"y":5.9,"v":0.02},{"x":0.19,"y":5.8,"v":1},{"x":0.19,"y":5.72,"v":0.8},
{"x":0.25,"y":6.26,"v":0.85},{"x":0.25,"y":6.16,"v":1},{"x":0.25,"y":6.06,"v":0.8},{"x":0.25,"y":5.96,"v":1},{"x":0.25,"y":5.86,"v":0.7},{"x":0.25,"y":5.76,"v":1},
{"x":0.31,"y":6.22,"v":1},{"x":0.31,"y":6.12,"v":0.55},{"x":0.31,"y":6.02,"v":1},{"x":0.31,"y":5.92,"v":0.8},{"x":0.31,"y":5.82,"v":1},
{"x":0.37,"y":6.2,"v":0.75},{"x":0.37,"y":6.1,"v":0.05},{"x":0.37,"y":6.0,"v":0.75},{"x":0.37,"y":5.9,"v":1},{"x":0.37,"y":5.81,"v":1},
{"x":0.43,"y":6.16,"v":1},{"x":0.43,"y":6.06,"v":0.7},{"x":0.43,"y":5.96,"v":1},{"x":0.43,"y":5.86,"v":0.75},{"x":0.49,"y":6.14,"v":1},{"x":0.49,"y":6.04,"v":0.75},{"x":0.49,"y":5.94,"v":1},{"x":0.49,"y":5.86,"v":0.8},
{"x":0.55,"y":6.13,"v":0.7},{"x":0.55,"y":6.03,"v":1},{"x":0.55,"y":5.94,"v":1},{"x":0.61,"y":6.12,"v":1},{"x":0.61,"y":6.02,"v":1},{"x":0.61,"y":5.92,"v":1},{"x":0.66,"y":6.1,"v":1},{"x":0.68,"y":6.0,"v":1},{"x":0.66,"y":5.92,"v":1},{"x":0.74,"y":6.03,"v":1},{"x":0.74,"y":5.96,"v":1},{"x":0.8,"y":6.04,"v":1},{"x":0.8,"y":5.98,"v":0.9},{"x":0.87,"y":6.0,"v":1},{"x":0.88,"y":6.04,"v":0.6},{"x":0.92,"y":5.97,"v":0.75},{"x":0.98,"y":6.0,"v":1},{"x":1.02,"y":6.0,"v":1},{"x":1.05,"y":6.03,"v":1},{"x":1.08,"y":5.98,"v":1},{"x":1.11,"y":6,"v":1},{"x":1.14,"y":6.0,"v":1},{"x":1.17,"y":6.01,"v":1},{"x":1.23,"y":6.02,"v":1},{"x":1.23,"y":5.98,"v":1},{"x":1.32,"y":6,"v":1},{"x":1.38,"y":6,"v":1},{"x":1.41,"y":6,"v":1},{"x":1.5,"y":6.02,"v":1},{"x":1.5,"y":5.98,"v":1},{"x":1.58,"y":6,"v":1},{"x":1.63,"y":6,"v":1},{"x":1.71,"y":6,"v":1},{"x":1.82,"y":6,"v":1},{"x":1.95,"y":6,"v":1},{"x":2.11,"y":6,"v":1},{"x":2.17,"y":6,"v":1},
{"x":-0.45,"y":6.08,"v":0.9},{"x":-0.45,"y":5.98,"v":0.1},{"x":-0.45,"y":5.88,"v":1},{"x":-0.39,"y":6.1,"v":0.5},{"x":-0.39,"y":6.0,"v":0.8},{"x":-0.39,"y":5.9,"v":0.3},{"x":-0.33,"y":6.12,"v":1},{"x":-0.33,"y":6.02,"v":0.4},{"x":-0.33,"y":5.92,"v":0.05},{"x":-0.33,"y":5.82,"v":0.8},{"x":-0.27,"y":6.15,"v":0.75},{"x":-0.27,"y":6.05,"v":0.4},{"x":-0.27,"y":5.95,"v":1},{"x":-0.27,"y":5.85,"v":0.3},{"x":-0.21,"y":6.18,"v":0.4},{"x":-0.21,"y":6.08,"v":1},{"x":-0.21,"y":5.98,"v":0.5},{"x":-0.21,"y":5.88,"v":0.75},{"x":-0.21,"y":5.78,"v":0.3},{"x":-0.15,"y":6.27,"v":1},{"x":-0.15,"y":6.17,"v":0.75},{"x":-0.15,"y":6.07,"v":0.4},{"x":-0.15,"y":5.97,"v":0.9},{"x":-0.15,"y":5.87,"v":0.3},{"x":-0.15,"y":5.77,"v":1},{"x":-0.09,"y":6.22,"v":0.8},{"x":-0.09,"y":6.12,"v":1},{"x":-0.09,"y":6.02,"v":0.3},{"x":-0.09,"y":5.92,"v":1},{"x":-0.09,"y":5.82,"v":0.7},{"x":-0.09,"y":5.72,"v":0.5},{"x":-0.03,"y":6.23,"v":1},{"x":-0.03,"y":6.13,"v":0.7},{"x":-0.03,"y":6.03,"v":1},{"x":-0.03,"y":5.93,"v":0.35},{"x":-0.03,"y":5.83,"v":1},{"x":-0.03,"y":5.73,"v":0.75},{"x":0.03,"y":6.25,"v":0.8},{"x":0.03,"y":6.15,"v":1},{"x":0.03,"y":6.05,"v":0.75},{"x":0.03,"y":5.95,"v":0.4},{"x":0.03,"y":5.85,"v":1},{"x":0.03,"y":5.75,"v":1},{"x":0.09,"y":6.24,"v":1},{"x":0.09,"y":6.14,"v":0.75},{"x":0.09,"y":6.04,"v":1},{"x":0.09,"y":5.94,"v":0.5},{"x":0.09,"y":5.84,"v":1},{"x":0.09,"y":5.74,"v":0.8},{"x":0.15,"y":6.23,"v":0.75},{"x":0.15,"y":6.13,"v":1},{"x":0.15,"y":6.03,"v":1},{"x":0.15,"y":5.93,"v":0.75},{"x":0.15,"y":5.83,"v":1},{"x":0.22,"y":6.25,"v":1},{"x":0.22,"y":6.15,"v":0.7},{"x":0.22,"y":6.05,"v":1},{"x":0.22,"y":5.85,"v":1},{"x":0.28,"y":6.19,"v":0.7},{"x":0.28,"y":6.09,"v":1},{"x":0.28,"y":5.99,"v":0.8},{"x":0.28,"y":5.89,"v":1},{"x":0.34,"y":6.16,"v":1},{"x":0.34,"y":6.06,"v":0.85},{"x":0.34,"y":5.96,"v":1},{"x":0.34,"y":5.86,"v":0.75},{"x":0.4,"y":6.13,"v":0.8},{"x":0.4,"y":6.03,"v":1},{"x":0.4,"y":5.93,"v":0.7},{"x":0.46,"y":6.1,"v":1},{"x":0.46,"y":6.0,"v":0.9},{"x":0.46,"y":5.9,"v":1}
]},
"encoding":{
"x":{"field":"x","type":"quantitative","scale":{"domain":[-2.671,3.155],"nice":false,"zero":false},
"axis":{"values":[-2,-1,0,1,2,3],"format":"d","title":"SHAP value (impact on model output)","titleFontSize":34.5,"titleFontWeight":"normal","titleColor":"#333333","titlePadding":10,"labelFontSize":29,"labelColor":"#333333","labelPadding":18,"ticks":false,"domain":true,"domainColor":"#cccccc","domainWidth":2.7,"grid":true,"gridColor":"#cccccc","gridWidth":2.7}},
"y":{"field":"y","type":"quantitative","scale":{"domain":[-1,7],"nice":false,"zero":false},
"axis":{"orient":"left","values":[0,1,2,3,4,5,6],"title":null,"labelExpr":"['transactions_last_2_weeks','transactions_last_month','sales_last_2_weeks','frequency','Revenue_sum','Revenue_mean','recency'][datum.value]","labelFontSize":34.5,"labelColor":"#333333","labelPadding":73,"labelLimit":500,"labelOffset":1.5,"ticks":false,"domain":false,"grid":true,"gridColor":"#cccccc","gridWidth":2.7}},
"color":{"field":"v","type":"quantitative","scale":{"domain":[0,0.17,0.3,0.42,0.6,1],"range":["#008bfb","#0070f0","#5f5fdd","#8a47c0","#bb00a0","#ff0051"]},
"legend":{"orient":"none","legendX":832,"legendY":-1,"title":null,"gradientLength":657,"gradientThickness":7,"values":[0.0005,0.9995],"labelExpr":"datum.value>0.5?'High':'Low'","labelFontSize":29,"labelColor":"#333333","labelOffset":20,"labelOverlap":false}}
}}
]}
